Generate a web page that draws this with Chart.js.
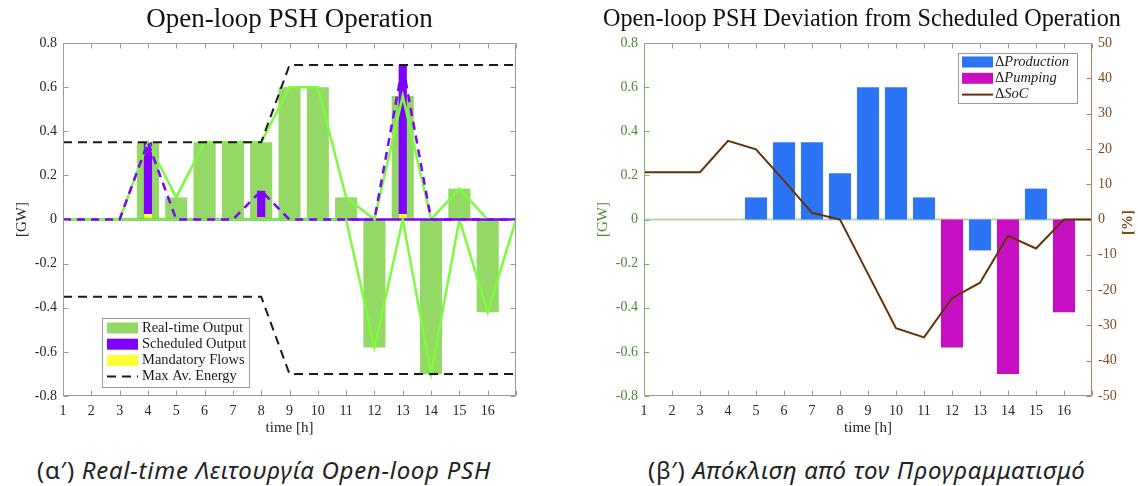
<!DOCTYPE html>
<html>
<head>
<meta charset="utf-8">
<script src="https://cdn.jsdelivr.net/npm/chart.js@4.4.0/dist/chart.umd.min.js"></script>
<style>
html,body{margin:0;padding:0;background:#fff;width:1138px;height:486px;overflow:hidden}
#c1{position:absolute;left:0;top:0}
#c2{position:absolute;left:580px;top:0}
.cap{position:absolute;top:455px;font-family:"Noto Sans",sans-serif;font-size:24px;color:#222;white-space:nowrap;line-height:30px;letter-spacing:0.73px}
.cap i{font-style:italic}
#capA{left:37px}
#capB{left:648px;letter-spacing:0.7px}
</style>
</head>
<body>
<canvas id="c1" width="570" height="445"></canvas>
<canvas id="c2" width="558" height="445"></canvas>
<div class="cap" id="capA">(α′) <i>Real-time Λειτουργία Open-loop PSH</i></div>
<div class="cap" id="capB">(β′) <i>Απόκλιση από τον Προγραμματισμό</i></div>
<script>
// ---------- data ----------
const hours = [1,2,3,4,5,6,7,8,9,10,11,12,13,14,15,16];
const hoursExt = [1,2,3,4,5,6,7,8,9,10,11,12,13,14,15,16,17];
const xTickLabels = ['1','2','3','4','5','6','7','8','9','10','11','12','13','14','15','16'];
const gwTickValues = [-0.8,-0.6,-0.4,-0.2,0,0.2,0.4,0.6,0.8];
const gwTickLabels = ['-0.8','-0.6','-0.4','-0.2','0','0.2','0.4','0.6','0.8'];
const pctTickValues = [-50,-40,-30,-20,-10,0,10,20,30,40,50];
const pctTickLabels = ['-50','-40','-30','-20','-10','0','10','20','30','40','50'];

// left panel (GW)
const realTimeOutput   = [0,0,0,0.35,0.10,0.35,0.35,0.35,0.60,0.60,0.10,-0.58,0.56,-0.70,0.14,-0.42];
const realTimeProdLine = [0,0,0,0.35,0.10,0.35,0.35,0.35,0.60,0.60,0.10,0,0.56,0,0.14,0];
const realTimePumpLine = [0,0,0,0,0,0,0,0,0,0,0,-0.58,0,-0.70,0,-0.42,0];
const scheduledOutput  = [0,0,0,0.35,0,0,0,0.13,0,0,0,0,0.70,0,0,0];
const scheduledLine    = [0,0,0,0.35,0,0,0,0.13,0,0,0,0,0.70,0,0,0,0];
const scheduledPump    = [0,0,0,0,0,0,0,0,0,0,0,0,0,0,0,0,0];
const mandatoryFlows   = [0,0,0,0.025,0,0,0,0.01,0,0,0,0,0.025,0,0,0];
const maxAvEnergyUp    = [0.35,0.35,0.35,0.35,0.35,0.35,0.35,0.35,0.70,0.70,0.70,0.70,0.70,0.70,0.70,0.70,0.70];
const maxAvEnergyDown  = [-0.35,-0.35,-0.35,-0.35,-0.35,-0.35,-0.35,-0.35,-0.70,-0.70,-0.70,-0.70,-0.70,-0.70,-0.70,-0.70,-0.70];

// right panel
const deltaProduction = [0,0,0,0,0.10,0.35,0.35,0.21,0.60,0.60,0.10,0,-0.14,0,0.14,0];
const deltaPumping    = [0,0,0,0,0,0,0,0,0,0,0,-0.58,0,-0.70,0,-0.42];
const deltaSoC        = [13.4,13.4,13.4,22.3,19.9,11.0,1.9,0,-15.4,-30.8,-33.4,-22.3,-17.9,-4.6,-8.2,0,0];
const baselineZero    = [0,0,0,0,0,0,0,0,0,0,0,0,0,0,0,0,0];

// ---------- helpers ----------
const SERIF = '"Liberation Serif","Times New Roman",serif';
Chart.defaults.font.family = SERIF;
function pts(xs, ys){ return ys.map((y,i)=>({x:xs[i], y:y})); }
function fixedTicks(values){ return s => { s.ticks = values.map(v=>({value:v})); }; }

const decor = {
  id:'decor',
  afterDraw(chart, args, o){
    const ctx = chart.ctx, a = chart.chartArea, L = 5;
    ctx.save();
    ctx.lineWidth = 1;
    ctx.setLineDash([]);
    const seg = (x1,y1,x2,y2,c)=>{ ctx.strokeStyle=c; ctx.beginPath(); ctx.moveTo(x1,y1); ctx.lineTo(x2,y2); ctx.stroke(); };
    const xs = chart.scales.x, yl = chart.scales.y, yr = chart.scales.y2;
    const l = Math.round(a.left)+0.5, r = Math.round(a.right)-0.5, t = Math.round(a.top)+0.5, b = Math.round(a.bottom)-0.5;
    xs.ticks.forEach(tk=>{ const p=Math.round(xs.getPixelForValue(tk.value))+0.5; seg(p,t,p,t+L,o.frame); seg(p,b,p,b-L,o.frame); });
    yl.ticks.forEach(tk=>{ const p=Math.round(yl.getPixelForValue(tk.value))+0.5; seg(l,p,l+L,p,o.left); if(!yr) seg(r,p,r-L,p,o.right); });
    if (yr) yr.ticks.forEach(tk=>{ const p=Math.round(yr.getPixelForValue(tk.value))+0.5; seg(r,p,r-L,p,o.right); });
    seg(l,t,r,t,o.frame); seg(l,b,r,b,o.frame); seg(l,t,l,b,o.left); seg(r,t,r,b,o.right);
    const cx = (a.left+a.right)/2, cy = (a.top+a.bottom)/2;
    for (const tx of o.texts){
      ctx.save();
      ctx.font = tx.font; ctx.fillStyle = tx.color; ctx.textAlign='center'; ctx.textBaseline='middle';
      const X = tx.at==='cx' ? cx + (tx.dx||0) : tx.x;
      const Y = tx.at==='cy' ? cy + (tx.dy||0) : tx.y;
      ctx.translate(X, Y); if (tx.rot) ctx.rotate(tx.rot);
      ctx.fillText(tx.text, 0, 0);
      ctx.restore();
    }
    const lg = o.legend;
    if (lg){
      ctx.fillStyle='#fff'; ctx.fillRect(lg.x, lg.y, lg.w, lg.h);
      ctx.strokeStyle='#9a9a9a'; ctx.lineWidth=1; ctx.strokeRect(lg.x+0.5, lg.y+0.5, lg.w, lg.h);
      lg.items.forEach((it,i)=>{
        const yy = lg.y + lg.first + i*lg.rowH;
        if (it.kind==='box'){ ctx.fillStyle=it.color; ctx.fillRect(lg.x+lg.px, yy-5.5, lg.pw, 11); }
        else { ctx.save(); ctx.strokeStyle=it.color; ctx.lineWidth=it.width||2; ctx.setLineDash(it.dash||[]); ctx.beginPath(); ctx.moveTo(lg.x+lg.px, yy); ctx.lineTo(lg.x+lg.px+lg.pw, yy); ctx.stroke(); ctx.restore(); }
        ctx.fillStyle='#1a1a1a'; ctx.textAlign='left'; ctx.textBaseline='middle';
        let xx = lg.x + lg.tx;
        if (it.pre){ ctx.font = lg.size+'px '+SERIF; ctx.fillText(it.pre, xx, yy); xx += ctx.measureText(it.pre).width; }
        ctx.font = (it.italic?'italic ':'') + lg.size+'px '+SERIF;
        ctx.fillText(it.text, xx, yy);
      });
    }
    ctx.restore();
  }
};

function xScale(){
  return { type:'linear', min:1, max:17, offset:false,
    afterBuildTicks: fixedTicks(hoursExt),
    ticks:{ autoSkip:false, maxRotation:0, padding:7, color:'#262626', font:{family:SERIF,size:14},
            callback:(v,i)=> (xTickLabels[i] !== undefined ? xTickLabels[i] : '') },
    grid:{display:false, drawTicks:false}, border:{display:false},
    afterFit: s=>{ s.height = 49; } };
}

const GREEN_BAR = '#94d865', LIME = '#7cfc3c', PURPLE = '#7f00ff', YELLOW = '#ffff33', BLACKD = '#1a1a1a';

// ---------- chart 1 ----------
new Chart(document.getElementById('c1'), {
  type:'bar',
  data:{ datasets:[
    {type:'line', label:'Max Av. Energy', data:pts(hoursExt,maxAvEnergyUp), borderColor:BLACKD, borderWidth:2, borderDash:[9,6], pointRadius:0, tension:0, order:0},
    {type:'line', label:'Max Av. Energy (lower)', data:pts(hoursExt,maxAvEnergyDown), borderColor:BLACKD, borderWidth:2, borderDash:[9,6], pointRadius:0, tension:0, order:0},
    {type:'line', label:'Scheduled Output line', data:pts(hoursExt,scheduledLine), borderColor:PURPLE, borderWidth:2.5, borderDash:[8,6], pointRadius:0, tension:0, order:1},
    {type:'line', label:'Real-time production', data:pts(hours,realTimeProdLine), borderColor:LIME, borderWidth:2.5, pointRadius:0, tension:0, order:2},
    {type:'line', label:'Real-time pumping', data:pts(hoursExt,realTimePumpLine), borderColor:LIME, borderWidth:2.5, pointRadius:0, tension:0, order:2},
    {type:'line', label:'Scheduled pumping', data:pts(hoursExt,scheduledPump), borderColor:PURPLE, borderWidth:2.5, pointRadius:0, tension:0, order:3},
    {type:'bar', label:'Mandatory Flows', data:pts(hours,mandatoryFlows), backgroundColor:YELLOW, barPercentage:0.29, categoryPercentage:1, grouped:false, order:4},
    {type:'bar', label:'Scheduled Output', data:pts(hours,scheduledOutput), backgroundColor:PURPLE, barPercentage:0.29, categoryPercentage:1, grouped:false, order:5},
    {type:'bar', label:'Real-time Output', data:pts(hours,realTimeOutput), backgroundColor:GREEN_BAR, barPercentage:0.78, categoryPercentage:1, grouped:false, order:6}
  ]},
  options:{
    responsive:false, animation:false, devicePixelRatio:1,
    layout:{padding:{top:43, right:54, left:0, bottom:0}},
    plugins:{
      legend:{display:false}, tooltip:{enabled:false}, title:{display:false},
      decor:{
        frame:'#9a9a9a', left:'#9a9a9a', right:'#9a9a9a',
        texts:[
          {text:'Open-loop PSH Operation', font:'27px '+SERIF, color:'#111', at:'cx', y:20},
          {text:'time [h]', font:'15px '+SERIF, color:'#262626', at:'cx', y:428},
          {text:'[GW]', font:'15px '+SERIF, color:'#262626', x:22, at:'cy', rot:-Math.PI/2}
        ],
        legend:{x:102, y:318, w:147, h:69, first:10, rowH:16.2, px:5, pw:31, tx:40, size:14.5,
          items:[
            {text:'Real-time Output', kind:'box', color:GREEN_BAR},
            {text:'Scheduled Output', kind:'box', color:PURPLE},
            {text:'Mandatory Flows', kind:'box', color:YELLOW},
            {text:'Max Av. Energy', kind:'line', color:BLACKD, dash:[9,6], width:2}
          ]}
      }
    },
    scales:{
      x: xScale(),
      y:{ type:'linear', min:-0.8, max:0.8,
          afterBuildTicks: fixedTicks(gwTickValues),
          ticks:{padding:6, color:'#262626', font:{family:SERIF,size:14}, callback:(v,i)=>gwTickLabels[i]},
          grid:{display:false, drawTicks:false}, border:{display:false},
          afterFit: s=>{ s.width = 63; } }
    }
  },
  plugins:[decor]
});

// ---------- chart 2 ----------
const BLUE = '#2b74f6', MAGENTA = '#c70fc2', BROWN = '#653208';
const GREEN_AX = '#86ab70', GREEN_TXT = '#4f8536', BROWN_AX = '#a8825f', BROWN_TXT = '#7c4a1f';
new Chart(document.getElementById('c2'), {
  type:'bar',
  data:{ datasets:[
    {type:'line', label:'ΔSoC', data:pts(hoursExt,deltaSoC), yAxisID:'y2', borderColor:BROWN, borderWidth:2, pointRadius:0, tension:0, order:0},
    {type:'bar', label:'ΔProduction', data:pts(hours,deltaProduction), yAxisID:'y', backgroundColor:BLUE, barPercentage:0.79, categoryPercentage:1, grouped:false, order:1},
    {type:'bar', label:'ΔPumping', data:pts(hours,deltaPumping), yAxisID:'y', backgroundColor:MAGENTA, barPercentage:0.79, categoryPercentage:1, grouped:false, order:1},
    {type:'line', label:'baseline', data:pts(hoursExt,baselineZero), yAxisID:'y', borderColor:'#b9d4a8', borderWidth:2, pointRadius:0, order:5}
  ]},
  options:{
    responsive:false, animation:false, devicePixelRatio:1,
    layout:{padding:{top:43, right:0, left:0, bottom:0}},
    plugins:{
      legend:{display:false}, tooltip:{enabled:false}, title:{display:false},
      decor:{
        frame:'#9a9a9a', left:GREEN_AX, right:BROWN_AX,
        texts:[
          {text:'Open-loop PSH Deviation from Scheduled Operation', font:'24.2px '+SERIF, color:'#111', at:'cx', dx:-6, y:20},
          {text:'time [h]', font:'15px '+SERIF, color:'#262626', at:'cx', y:428},
          {text:'[GW]', font:'15px '+SERIF, color:GREEN_TXT, x:23, at:'cy', rot:-Math.PI/2},
          {text:'[%]', font:'bold 15px '+SERIF, color:BROWN_TXT, x:548, at:'cy', dy:3, rot:-Math.PI/2}
        ],
        legend:{x:378, y:53, w:119, h:50, first:9, rowH:16.3, px:4, pw:31, tx:37, size:14.5,
          items:[
            {pre:'Δ', text:'Production', italic:true, kind:'box', color:BLUE},
            {pre:'Δ', text:'Pumping', italic:true, kind:'box', color:MAGENTA},
            {pre:'Δ', text:'SoC', italic:true, kind:'line', color:BROWN, width:2}
          ]}
      }
    },
    scales:{
      x: xScale(),
      y:{ type:'linear', position:'left', min:-0.8, max:0.8,
          afterBuildTicks: fixedTicks(gwTickValues),
          ticks:{padding:6, color:GREEN_TXT, font:{family:SERIF,size:14}, callback:(v,i)=>gwTickLabels[i]},
          grid:{display:false, drawTicks:false}, border:{display:false},
          afterFit: s=>{ s.width = 64; } },
      y2:{ type:'linear', position:'right', min:-50, max:50,
          afterBuildTicks: fixedTicks(pctTickValues),
          ticks:{padding:6, color:BROWN_TXT, font:{family:SERIF,size:14}, callback:(v,i)=>pctTickLabels[i]},
          grid:{display:false, drawTicks:false}, border:{display:false},
          afterFit: s=>{ s.width = 46; } }
    }
  },
  plugins:[decor]
});
</script>
</body>
</html>
